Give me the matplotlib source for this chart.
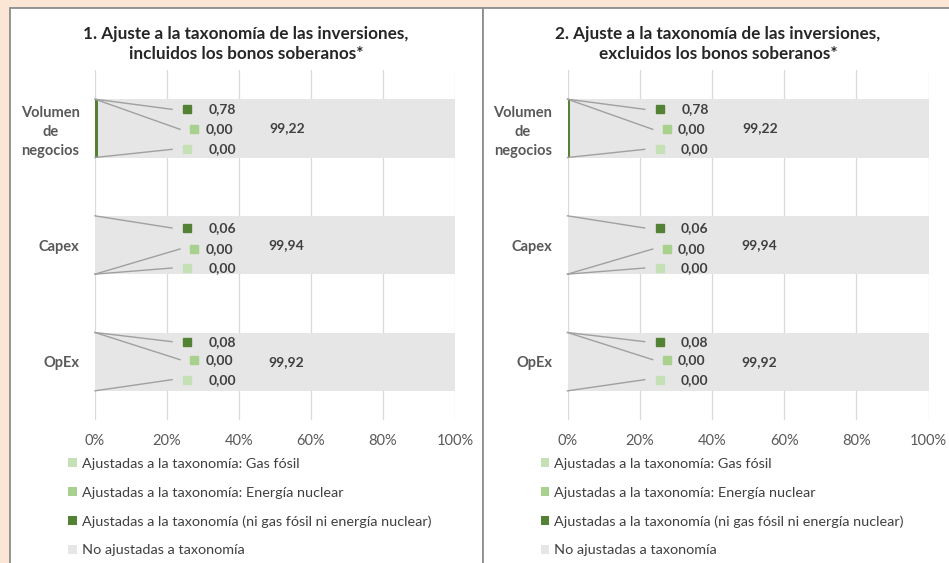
import numpy as np
import matplotlib
matplotlib.use('Agg')
import matplotlib.pyplot as plt
from matplotlib.patches import Rectangle, Patch

plt.rcParams['font.family'] = ['Lato', 'DejaVu Sans']

# ---------------- data ----------------
categories = ['Volumen\nde\nnegocios', 'Capex', 'OpEx']
titles = ['1. Ajuste a la taxonomía de las inversiones,\nincluidos los bonos soberanos*',
          '2. Ajuste a la taxonomía de las inversiones,\nexcluidos los bonos soberanos*']
series_names = ['Ajustadas a la taxonomía: Gas fósil',
                'Ajustadas a la taxonomía: Energía nuclear',
                'Ajustadas a la taxonomía (ni gas fósil ni energía nuclear)',
                'No ajustadas a taxonomía']
# one list per chart, per series (gas, nuclear, other aligned, not aligned)
gas_incl = [0.00, 0.00, 0.00]
nuclear_incl = [0.00, 0.00, 0.00]
other_incl = [0.78, 0.06, 0.08]
not_incl = [99.22, 99.94, 99.92]
gas_excl = [0.00, 0.00, 0.00]
nuclear_excl = [0.00, 0.00, 0.00]
other_excl = [0.78, 0.06, 0.08]
not_excl = [99.22, 99.94, 99.92]
xticks = [0, 20, 40, 60, 80, 100]

# ---------------- style ----------------
COLORS = ['#C5E0B4', '#A9D18E', '#548235', '#E6E6E6']
BEIGE = '#FBE6D5'
W, H = 949, 563
SLOT = 350 / 3.0            # px per category
PCT = 100 / 360.0           # pct per px

# leader line layout (px): role -> (line end dx, square dx, text centre dx)
ROLE_X = {2: (77, 92, 127), 1: (85, 99, 124), 0: (77, 92, 127)}
# per category vertical offsets of labels (px from bar centre) and anchor
ROLE_Y = [{2: (-19, 'top'), 1: (1, 'top'), 0: (21, 'bottom')},
          {2: (-17, 'top'), 1: (4, 'bottom'), 0: (23, 'bottom')},
          {2: (-20, 'top'), 1: (-2, 'top'), 0: (18, 'bottom')}]


def fx(x):
    return x / W


def fy(y):
    return 1 - y / H


fig = plt.figure(figsize=(W / 100, H / 100), dpi=100, facecolor=BEIGE)

# white panels with grey border
for x0, x1 in [(10, 483), (483, 952)]:
    fig.patches.append(Rectangle((fx(x0), fy(570)), fx(x1) - fx(x0), fy(8) - fy(570),
                                 transform=fig.transFigure, facecolor='white',
                                 edgecolor='#8C8C8C', lw=1.3, zorder=-5))

panels = [
    (95, 455, 246, [gas_incl, nuclear_incl, other_incl, not_incl]),
    (567.5, 928.5, 718, [gas_excl, nuclear_excl, other_excl, not_excl]),
]

for i, (x0, x1, tx, data) in enumerate(panels):
    ax = fig.add_axes([fx(x0), fy(420), fx(x1) - fx(x0), 350 / H])
    ax.set_zorder(2)
    ax.patch.set_visible(False)
    y = np.arange(len(categories))
    left = np.zeros(len(categories))
    for vals, col in zip(data, COLORS):
        ax.barh(y, vals, left=left, height=0.5, color=col, zorder=2)
        left += np.array(vals)
    ax.set_xlim(0, 100)
    ax.set_ylim(2.5, -0.5)
    ax.set_xticks(xticks)
    ax.set_xticklabels([f'{t}%' for t in xticks], fontsize=10.5, color='#595959')
    ax.set_yticks(y)
    ax.set_yticklabels(categories, fontsize=10.5, fontweight='bold', color='#595959',
                       multialignment='center', linespacing=1.43)
    ax.tick_params(length=0)
    ax.tick_params(axis='x', pad=10)
    ax.tick_params(axis='y', pad=11)
    ax.grid(axis='x', color='#D9D9D9', lw=0.9, zorder=0)
    ax.set_axisbelow(True)
    for s in ax.spines.values():
        s.set_visible(False)

    # data labels
    for c in range(len(categories)):
        for role in (2, 1, 0):
            lx, sx, txc = ROLE_X[role]
            dy, anchor = ROLE_Y[c][role]
            y_anchor = c - 0.25 if anchor == 'top' else c + 0.25
            yl = c + dy / SLOT
            ax.plot([0, lx * PCT], [y_anchor, yl], color='#A0A0A0', lw=1,
                    zorder=3, clip_on=False)
            ax.plot(sx * PCT, yl, marker='s', ms=5.5, color=COLORS[role],
                    ls='none', zorder=4)
            ax.text(txc * PCT, yl, f'{data[role][c]:.2f}'.replace('.', ','),
                    ha='center', va='center', fontsize=10, fontweight='bold',
                    color='#404040', zorder=4)
        start = sum(d[c] for d in data[:3])
        mid = start + data[3][c] / 2
        ax.text(mid + 11 * PCT, c, f'{data[3][c]:.2f}'.replace('.', ','),
                ha='center', va='center', fontsize=10, fontweight='bold',
                color='#404040', zorder=4)

    fig.text(fx(tx), fy(44), titles[i], ha='center', va='center', fontsize=12.3,
             fontweight='bold', color='#262626', linespacing=1.25)

    handles = [Patch(facecolor=col, edgecolor='none') for col in COLORS]
    fig.legend(handles, series_names, loc='upper left',
               bbox_to_anchor=(fx(x0 - 27), fy(458)), frameon=False,
               fontsize=10.35, labelcolor='#404040', handlelength=0.6,
               handleheight=0.6, handletextpad=0.35, labelspacing=1.15,
               borderpad=0, borderaxespad=0)

fig.savefig('out.png', dpi=100, facecolor=BEIGE)
